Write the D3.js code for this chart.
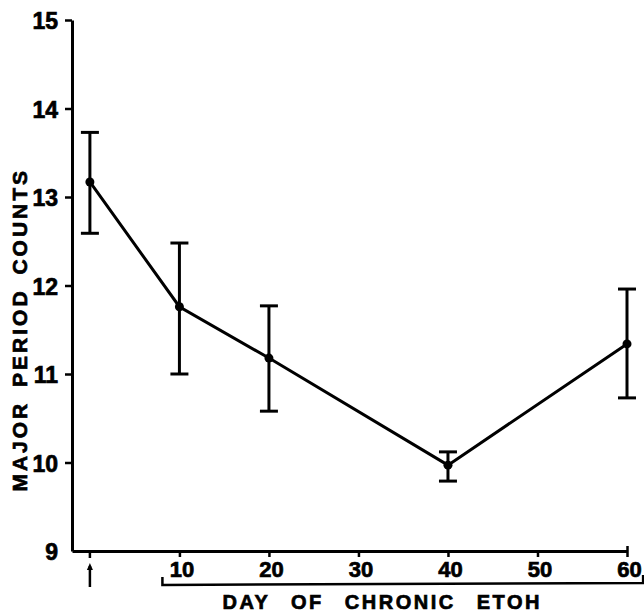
<!DOCTYPE html>
<html>
<head>
<meta charset="utf-8">
<script src="https://cdn.jsdelivr.net/npm/d3@7"></script>
<style>
  body { margin: 0; background: #fff; }
  svg { display: block; }
  text { font-family: 'Liberation Sans', Arial, sans-serif; font-weight: bold; fill: #000; }
</style>
</head>
<body>
<svg id="chart" width="644" height="613"></svg>
<script>
// values
const days = [0, 10, 20, 40, 60]
const means = [13.17, 11.76, 11.18, 9.97, 11.34]
const upper = [13.73, 12.48, 11.77, 10.12, 11.96]
const lower = [12.59, 11.0, 10.58, 9.79, 10.73]

const xTicks = [10, 20, 30, 40, 50, 60]
const yTicks = [9, 10, 11, 12, 13, 14, 15]
const chronicSpan = [8.1, 61.8]
const baselineDay = 0

const xTitle = 'DAY OF CHRONIC ETOH'
const yTitle = 'MAJOR PERIOD COUNTS'

const dataset = days.map((d, i) => ({ day: d, mean: means[i], hi: upper[i], lo: lower[i] }))

const svg = d3.select('#chart')

const xScale = d3.scaleLinear().domain([-2, 60]).range([72, 627])
const yScale = d3.scaleLinear().domain([9, 15]).range([551, 20])

function labelStyle(sel, size) {
  sel
    .attr('font-size', size)
    .style('font-size', size + 'px')
    .style('font-family', "'Liberation Sans', Arial, sans-serif")
    .style('font-weight', 'bold')
    .attr('fill', '#000')
    .attr('stroke', '#000')
    .attr('stroke-width', 0.7)
}

// y axis
const yAxis = svg.append('g')
  .attr('transform', `translate(${xScale(-2)},0)`)
  .call(d3.axisLeft(yScale).tickValues(yTicks).tickSize(7).tickSizeOuter(0).tickFormat(d3.format('d')))

yAxis.select('.domain').attr('stroke-width', 3)
yAxis.selectAll('.tick line').attr('stroke-width', 2.5)
yAxis.selectAll('.tick').filter((d) => d === 9).select('line').remove()
yAxis.selectAll('.tick text')
  .attr('x', -14)
  .attr('dy', '0.38em')
  .call(labelStyle, 23)

// x axis
const xAxis = svg.append('g')
  .attr('transform', `translate(0,${yScale(9)})`)
  .call(d3.axisBottom(xScale).tickValues(xTicks).tickSize(6).tickSizeOuter(0))

xAxis.select('.domain').attr('stroke-width', 3)
xAxis.selectAll('.tick line').attr('stroke-width', 2.5)
xAxis.selectAll('.tick text')
  .attr('x', 2)
  .attr('y', 10)
  .attr('dy', '0.71em')
  .call(labelStyle, 22)
xAxis.selectAll('.tick').filter((d) => d === 60).select('line').attr('y1', -5)

// baseline marker tick + arrow
svg.append('line')
  .attr('x1', xScale(baselineDay)).attr('x2', xScale(baselineDay))
  .attr('y1', yScale(9)).attr('y2', yScale(9) + 7)
  .attr('stroke', '#000').attr('stroke-width', 2.5)
svg.append('line')
  .attr('x1', xScale(baselineDay)).attr('x2', xScale(baselineDay))
  .attr('y1', yScale(9) + 15).attr('y2', yScale(9) + 36)
  .attr('stroke', '#000').attr('stroke-width', 2.5)
svg.append('path')
  .attr('d', `M${xScale(baselineDay) - 3},${yScale(9) + 19} L${xScale(baselineDay)},${yScale(9) + 12} L${xScale(baselineDay) + 3},${yScale(9) + 19} Z`)
  .attr('fill', '#000')

// bracket for the chronic period
const bracketY = yScale(9) + 34
svg.append('path')
  .attr('d', `M${xScale(chronicSpan[0])},${bracketY - 8} L${xScale(chronicSpan[0])},${bracketY} L${xScale(chronicSpan[1])},${bracketY - 2} L${xScale(chronicSpan[1])},${bracketY - 10}`)
  .attr('fill', 'none')
  .attr('stroke', '#000')
  .attr('stroke-width', 2.5)

// titles
svg.append('text')
  .attr('x', (xScale(xTicks[0]) + xScale(xTicks[xTicks.length - 1])) / 2 - 21)
  .attr('y', 609)
  .attr('text-anchor', 'middle')
  .style('letter-spacing', '2.5px')
  .style('word-spacing', '13px')
  .text(xTitle)
  .call(labelStyle, 20)

svg.append('text')
  .attr('transform', `translate(27,${yScale(11.5)}) rotate(-90)`)
  .attr('text-anchor', 'middle')
  .style('letter-spacing', '3px')
  .style('word-spacing', '5px')
  .text(yTitle)
  .call(labelStyle, 21)

// connecting line
const line = d3.line().x((d) => xScale(d.day)).y((d) => yScale(d.mean))
svg.append('path')
  .datum(dataset)
  .attr('d', line)
  .attr('fill', 'none')
  .attr('stroke', '#000')
  .attr('stroke-width', 3)

// error bars
const bars = svg.append('g').selectAll('.err').data(dataset).enter().append('g').attr('class', 'err')
bars.append('line')
  .attr('x1', (d) => xScale(d.day)).attr('x2', (d) => xScale(d.day))
  .attr('y1', (d) => yScale(d.hi)).attr('y2', (d) => yScale(d.lo))
  .attr('stroke', '#000').attr('stroke-width', 3)
bars.append('line')
  .attr('x1', (d) => xScale(d.day) - 9).attr('x2', (d) => xScale(d.day) + 9)
  .attr('y1', (d) => yScale(d.hi)).attr('y2', (d) => yScale(d.hi))
  .attr('stroke', '#000').attr('stroke-width', 3)
bars.append('line')
  .attr('x1', (d) => xScale(d.day) - 9).attr('x2', (d) => xScale(d.day) + 9)
  .attr('y1', (d) => yScale(d.lo)).attr('y2', (d) => yScale(d.lo))
  .attr('stroke', '#000').attr('stroke-width', 3)
bars.append('circle')
  .attr('cx', (d) => xScale(d.day)).attr('cy', (d) => yScale(d.mean))
  .attr('r', 4.5)
  .attr('fill', '#000')
</script>
</body>
</html>
